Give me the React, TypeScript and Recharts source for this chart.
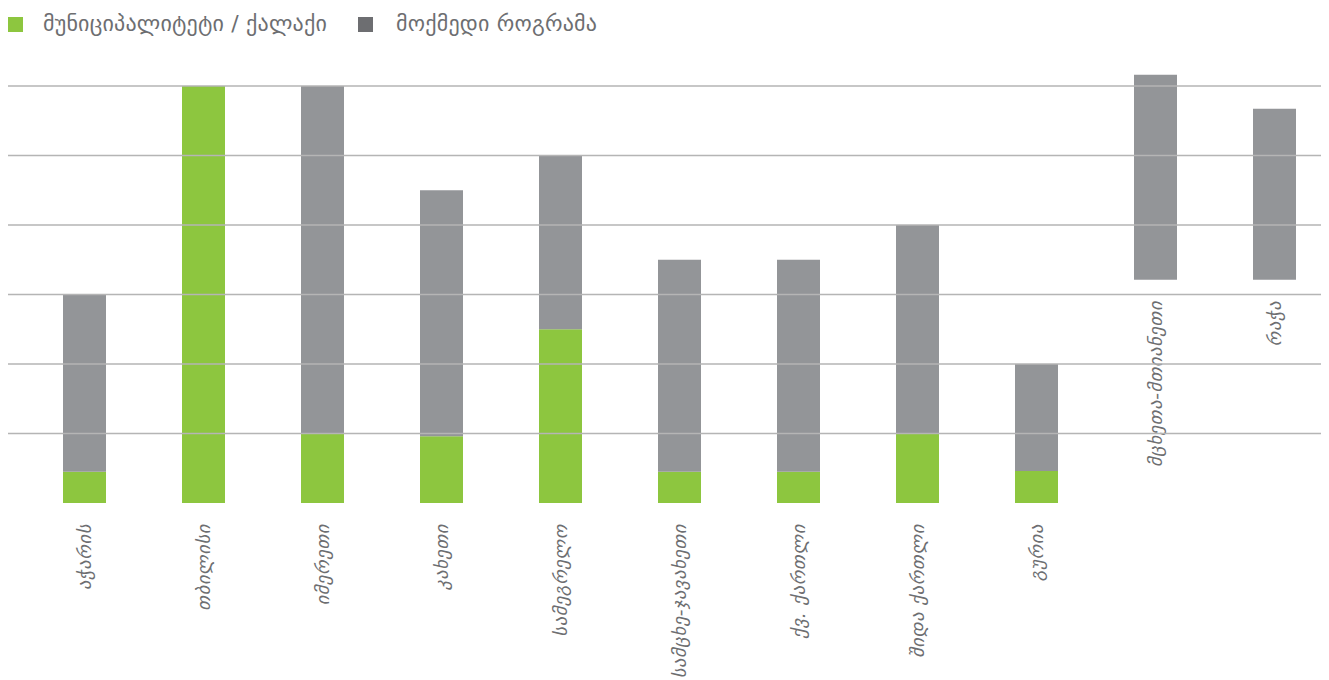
import { BarChart, Bar, XAxis, YAxis, ReferenceLine } from "recharts";

const regions = [
  "აჭარის",
  "თბილისი",
  "იმერეთი",
  "კახეთი",
  "სამეგრელო",
  "სამცხე-ჯავახეთი",
  "ქვ. ქართლი",
  "შიდა ქართლი",
  "გურია",
  "მცხეთა-მთიანეთი",
  "რაჭა",
];

// base offset (only the last two bars float)
const offsetValues = [0, 0, 0, 0, 0, 0, 0, 0, 0, 3.21, 3.21];
const municipalValues = [0.45, 6, 1, 0.96, 2.5, 0.45, 0.45, 1, 0.46, 0, 0];
const programValues = [2.55, 0, 5, 3.54, 2.5, 3.05, 3.05, 3, 1.54, 2.95, 2.46];

const gridTicks = [0, 1, 2, 3, 4, 5, 6];

const seriesNames = ["მუნიციპალიტეტი / ქალაქი", "მოქმედი როგრამა"];

const GREEN = "#8dc63f";
const GRAY = "#939598";
const TEXT = "#6d6e71";
const FONT = "'DejaVu Sans', sans-serif";

const data = regions.map((name, i) => ({
  name,
  offset: offsetValues[i],
  municipal: municipalValues[i],
  program: programValues[i],
}));

// invisible base bar: draws the region name just under where the stack starts
const OffsetShape = (props: any) => {
  const { x, y, width, payload } = props;
  const cx = x + width / 2;
  const ty = y + 21;
  return (
    <text
      x={cx}
      y={ty}
      transform={`rotate(-90, ${cx}, ${ty})`}
      textAnchor="end"
      dominantBaseline="central"
      fill={TEXT}
      fontFamily={FONT}
      fontStyle="italic"
      fontSize={18.5}
      letterSpacing={0.6}
    >
      {payload.name}
    </text>
  );
};

export default function App() {
  return (
    <div style={{ position: "relative", width: 1321, height: 672 }}>
      <div
        style={{
          position: "absolute",
          left: 0,
          top: 8,
          height: 16,
          lineHeight: "16px",
          display: "flex",
          alignItems: "center",
          fontFamily: FONT,
          fontSize: 22,
          letterSpacing: 0.2,
          color: TEXT,
          whiteSpace: "nowrap",
        }}
      >
        <span style={{ width: 15, height: 15, background: GREEN, display: "inline-block" }} />
        <span style={{ marginLeft: 20 }}>{seriesNames[0]}</span>
        <span style={{ width: 15, height: 15, background: TEXT, display: "inline-block", marginLeft: 31 }} />
        <span style={{ marginLeft: 23 }}>{seriesNames[1]}</span>
      </div>
      <BarChart
        width={1321}
        height={672}
        data={data}
        margin={{ top: 64, right: 7, left: 0, bottom: 177 }}
      >
        {gridTicks
          .filter((t) => t > 0)
          .map((t) => (
            <ReferenceLine key={t} y={t} stroke="#b5b5b5" strokeWidth={1.5} />
          ))}
        <XAxis
          dataKey="name"
          tick={false}
          tickLine={false}
          height={0}
          stroke="#808080"
          strokeWidth={2}
          padding={{ left: 17, right: -12 }}
        />
        <YAxis hide domain={[0, 6.2]} ticks={gridTicks} />
        <Bar
          dataKey="offset"
          stackId="a"
          fill="transparent"
          barSize={43}
          shape={OffsetShape}
          isAnimationActive={false}
        />
        <Bar dataKey="municipal" stackId="a" fill={GREEN} barSize={43} isAnimationActive={false} />
        <Bar dataKey="program" stackId="a" fill={GRAY} barSize={43} isAnimationActive={false} />
      </BarChart>
    </div>
  );
}
